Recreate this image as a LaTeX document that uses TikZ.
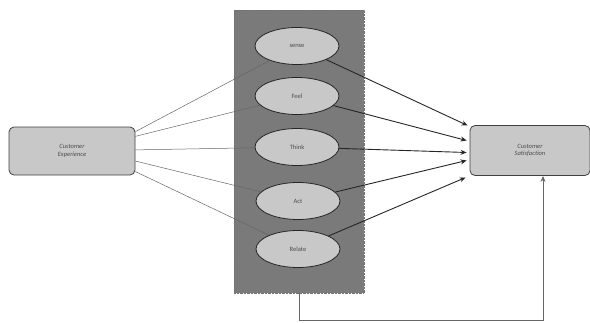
\documentclass[tikz,border=0pt]{standalone}
\usepackage{fontspec}
\setmainfont{Carlito}
\usetikzlibrary{shapes.geometric,calc,arrows.meta}
\definecolor{boxgray}{RGB}{200,200,200}
\definecolor{bandgray}{RGB}{122,122,122}
\begin{document}
\begin{tikzpicture}[x=1pt, y=-1pt,
	cbox/.style = {draw=black!75, thick, fill=boxgray, rounded corners=5pt, minimum width=126pt, minimum height=48pt, inner sep=0pt, align=center, font=\fontsize{6.5}{7.5}\selectfont\itshape, text=black!70},
	dim/.style = {draw=black!55, densely dotted, fill=bandgray, minimum width=130pt, minimum height=283pt, inner sep=0pt},
	oval/.style = {ellipse, draw=black!85, thick, fill=boxgray, minimum width=84pt, minimum height=37pt, inner sep=0pt, font=\fontsize{6.5}{7.5}\selectfont, text=black!70},
	thin line/.style = {draw=black!60, line width=0.5pt},
	arr/.style = {draw=black!85, line width=0.9pt, -{Stealth[length=6pt, width=5pt]}}]
	\useasboundingbox (0,0) rectangle (590,322);
	% dimensions
	\node[dim] (grp) at (299,151.5) {};
	\node[oval] (sense) at (297,46) {sense};
	\node[oval] (feel) at (297,96) {Feel};
	\node[oval] (think) at (297,147) {Think};
	\node[oval] (act) at (298,201) {Act};
	\node[oval] (relate) at (298,249) {Relate};
	% the two boxes
	\node[cbox] (cx) at (72,151) {Customer\\Experience};
	\node[cbox, minimum width=120pt, minimum height=50pt] (cs) at (530,150.5) {Customer\\Satisfaction};
	% left lines
	\draw[thin line] (cx.17) -- (sense);
	\draw[thin line] (cx.13) -- (feel);
	\draw[thin line] (cx.1) -- (think);
	\draw[thin line] (cx.-9) -- (act);
	\draw[thin line] (cx.-18) -- (relate);
	% arrows
	\draw[arr] (sense) -- ($(cs.west)+(-2,-25)$);
	\draw[arr] (feel) -- ($(cs.west)+(-3,-10)$);
	\draw[arr] (think) -- ($(cs.west)+(-3,2)$);
	\draw[arr] (act) -- ($(cs.west)+(-3,10)$);
	\draw[arr] (relate) -- ($(cs.west)+(-4,27)$);
	% feedback
	\draw[arr, draw=black!60] (grp.south) -- ++(0,27) -| ($(cs.south)+(13,0)$);
\end{tikzpicture}
\end{document}
